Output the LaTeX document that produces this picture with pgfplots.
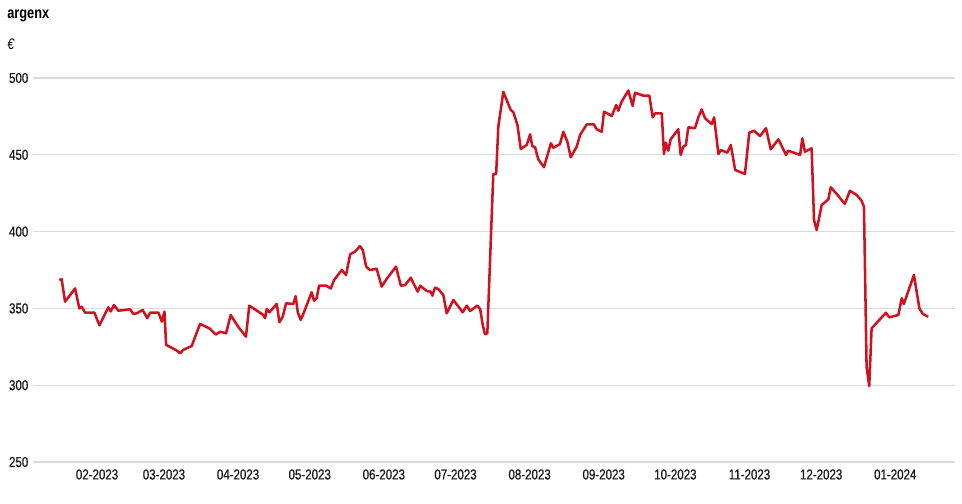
\documentclass[border=0pt]{standalone}
\usepackage{pgfplots}
\pgfplotsset{compat=1.18}
\usepackage{fontspec}
\setmainfont{Liberation Sans}[FakeStretch=0.8]
\definecolor{linered}{RGB}{208,18,32}
\definecolor{gridgray}{RGB}{218,218,218}
\begin{document}
\begin{tikzpicture}
\begin{axis}[
  scale only axis,
  width=691.5pt, height=288pt,
  xmin=4.2, xmax=390,
  ymin=250, ymax=500,
  ytick={250,300,350,400,450,500},
  xtick={31,59,90,120,151,181,212,243,273,304,334,365},
  xticklabels={02-2023,03-2023,04-2023,05-2023,06-2023,07-2023,08-2023,09-2023,10-2023,11-2023,12-2023,01-2024},
  ymajorgrids,
  grid style={gridgray, line width=0.8pt},
  axis line style={draw=none},
  tick style={draw=none},
  /pgf/number format/assume math mode=true,
  ticklabel style={font=\addfontfeature{FakeBold=0.6}\fontsize{10.8pt}{12pt}\selectfont, text=black!90},
  xticklabel style={yshift=-2pt},
  clip=false,
]
\addplot[linered, line width=1.9pt, line join=round] coordinates {
(15.2,368.5)(16.2,369)(17.6,354.4)(21.8,363)(23.6,350)(24.6,351)(26,347.2)(29.9,347.2)(32,339)(35.7,350.7)(36.7,348)(38.1,352.2)(39.9,348.5)(44.8,349.4)(46.2,346.4)(47.6,346.8)(50.1,349)(52,343.6)(53.2,347.2)(56.7,347.2)(58.1,341.4)(59.2,347.9)(59.9,326.2)(61.5,325)(64.4,322.5)(65.7,320.8)(67.1,323)(70.6,325.5)(74.1,339.9)(78,337)(80.7,333)(82.5,334.8)(85,333.8)(86.9,345.7)(90.1,338)(93.3,331.6)(94.7,351.8)(100.6,345.7)(101.3,343.6)(102,349.6)(103.1,347.5)(106.2,352.9)(107.3,341)(108.7,344.6)(110.1,353.3)(113.1,352.9)(114.1,358)(115,347.5)(116.2,342.5)(117.3,346.4)(120.8,360.5)(121.8,355)(122.9,356.6)(123.9,364.8)(126.8,364.8)(128.8,363)(130.2,368.5)(133.4,375)(135.2,371.8)(136.9,385.2)(139,387)(141,390.6)(142.2,388)(143.6,377.2)(145.2,375)(148,375.8)(150.1,364.2)(152.2,369.2)(156.1,377.2)(158.1,364.8)(159.9,365.2)(162.3,370)(163.6,365.7)(165.2,360.9)(166.2,364.8)(169,361.3)(170.6,360.9)(171.3,358.3)(172.4,363.5)(173.8,362.6)(175.9,358.7)(177.3,346.8)(180.1,355.5)(184,347.5)(185.7,351.8)(187.1,348.3)(190.1,351.8)(191.3,349.6)(192.4,339.2)(193.3,333.3)(194.3,333.8)(196.8,437.5)(198,437.5)(198.9,468.3)(201,491)(202.4,485.7)(204.1,479.2)(205.2,477.7)(206.9,469.4)(208.3,453.8)(210.8,456.4)(212.2,463.3)(213.1,455.7)(214.3,454.9)(215.6,447.1)(218,441.9)(220.9,457.5)(221.9,454.6)(224.7,457)(226.1,465)(227.8,458.5)(229.2,448.4)(231.7,455.3)(233.1,462.9)(235.9,469.8)(238.9,469.8)(240.1,466.6)(242.2,465)(243.1,478.1)(246.4,475.3)(248.2,482.4)(249.1,478.7)(250.5,484.6)(253.3,491.8)(255.1,481.8)(256.1,490.4)(259.6,488.5)(262.1,488.5)(263.5,474.4)(264.5,477)(267.3,477)(268.2,450.5)(269,457.9)(270,452.7)(271,460.1)(274.2,466.6)(275.2,449.9)(276.3,455.3)(277.4,456.4)(278.4,467.9)(281.2,467.3)(282.6,474.4)(284,479.6)(285.4,473.8)(288.2,470)(289.2,474.4)(291,450.5)(292,453.1)(294.7,451.4)(296.2,456.4)(298,440.1)(302.1,437.5)(303.9,464.4)(305.9,465.7)(308.4,462.2)(310.9,467.3)(312.9,453.6)(316.1,460.1)(319.3,449.9)(320.2,452.7)(325.2,449.9)(326.1,460.7)(327.2,452)(330,454.2)(331,407.6)(332.1,401)(334.2,417.3)(337,421)(338,428.8)(340.5,424.5)(343.9,418)(346,426.6)(348.9,423.8)(350.9,420.1)(351.9,416.2)(353,312)(354.1,299.5)(355.1,337)(361.1,347.2)(362.5,344.2)(366.3,345.7)(367.7,356.6)(368.6,352.9)(372.8,371.8)(375.1,350)(376.5,346.4)(378.8,344.6)
};
\end{axis}
\node[anchor=base west, inner sep=0pt, font=\bfseries\fontsize{12pt}{14pt}\selectfont] at (-19.5pt,332.25pt) {argenx};
\node[anchor=base west, inner sep=0pt, font=\itshape\fontsize{11.5pt}{13pt}\selectfont] at (-19.5pt,309pt) {€};
\pgfresetboundingbox
\path[use as bounding box] (-24.75pt,-30.75pt) rectangle (696.75pt,346.5pt);
\end{tikzpicture}
\end{document}
